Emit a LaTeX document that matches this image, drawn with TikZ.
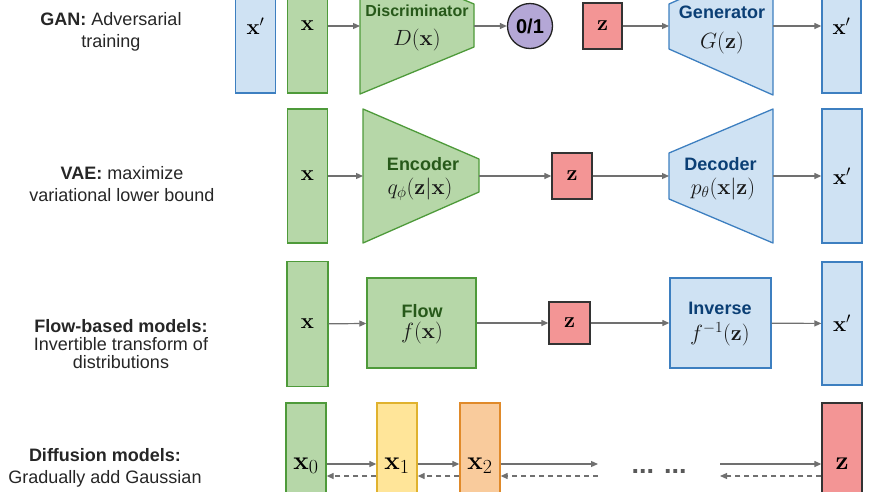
\RequirePackage{fix-cm}
\documentclass[tikz,border=0pt]{standalone}
\usepackage{amsmath}
\usepackage[no-math]{fontspec}
\newfontfamily\arial{Liberation Sans}
\usetikzlibrary{arrows.meta}
\definecolor{gfill}{HTML}{B6D7A8}
\definecolor{gline}{HTML}{4E9A3A}
\definecolor{gtxt}{HTML}{27591A}
\definecolor{bfill}{HTML}{CFE2F3}
\definecolor{bline}{HTML}{3D7FC0}
\definecolor{btxt}{HTML}{0B3F75}
\definecolor{rfill}{HTML}{F39595}
\definecolor{rline}{HTML}{333333}
\definecolor{pfill}{HTML}{B4A7D6}
\definecolor{pline}{HTML}{222222}
\definecolor{yfill}{HTML}{FFE599}
\definecolor{yline}{HTML}{E0B22E}
\definecolor{ofill}{HTML}{F9CB9C}
\definecolor{oline}{HTML}{E08A2A}
\definecolor{agrey}{HTML}{707070}
\newcommand\mysz{\fontsize{22}{26}\selectfont}
\newcommand\bigsz{\fontsize{26}{30}\selectfont}
\newcommand\ttlsz{\fontsize{18}{21.6}\selectfont}
\newcommand\sub[1]{_{\mbox{\fontsize{20}{22}\selectfont #1}}}
\begin{document}
\begin{tikzpicture}[x=1pt,y=-1pt,
  box/.style={draw, line width=1.3pt, inner sep=0pt, font=\mysz, text=black},
  tallbox/.style={box, minimum width=40pt, minimum height=134pt},
  gbox/.style={box, fill=gfill, draw=gline},
  bbox/.style={box, fill=bfill, draw=bline},
  rbox/.style={box, fill=rfill, draw=rline},
  ybox/.style={box, fill=yfill, draw=yline},
  obox/.style={box, fill=ofill, draw=oline},
  gshape/.style={fill=gfill, draw=gline, line width=1.3pt, line join=round},
  bshape/.style={fill=bfill, draw=bline, line width=1.3pt, line join=round},
  gname/.style={text=gtxt, font=\arial\bfseries\ttlsz},
  bname/.style={text=btxt, font=\arial\bfseries\ttlsz},
  mathlbl/.style={font=\mysz, text=black!90, inner sep=0pt},
  difflbl/.style={font=\bigsz, text=black, inner sep=0pt},
  ttl/.style={align=center, font=\arial\ttlsz, text=black!85},
  arr/.style={draw=agrey, line width=1.2pt, -{Triangle[length=7pt,width=6pt]}},
  darr/.style={arr, dash pattern=on 5pt off 4pt}]
\useasboundingbox (0,0) rectangle (873,491);
\clip (0,0) rectangle (873,491);

% ---------------- GAN row ----------------
\node[ttl] (ganT) at (111,32) {\textbf{GAN:} Adversarial\\training};
\node[tallbox, bbox] (ganXp1) at (255.5,26) {$\mathbf{x}'$};
\node[tallbox, gbox] (ganX) at (307.5,26) {$\mathbf{x}$};
\draw[gshape] (360,-43) -- (474,4) -- (474,47) -- (360,94) -- cycle;
\coordinate (discL) at (360,26);
\coordinate (discR) at (474,26);
\node[gname, font=\arial\bfseries\fontsize{16}{19}\selectfont] (discN) at (417,11) {Discriminator};
\node[mathlbl] (discM) at (417,40) {$D(\mathbf{x})$};
\node[circle, draw=pline, fill=pfill, line width=1.3pt, minimum size=45pt, inner sep=0pt,
      font=\arial\bfseries\fontsize{20}{24}\selectfont] (out) at (530,26) {0/1};
\node[rbox, minimum width=39pt, minimum height=46pt] (ganZ) at (602.5,26) {$\mathbf{z}$};
\draw[bshape] (669,4) -- (773,-42) -- (773,95) -- (669,49) -- cycle;
\coordinate (genL) at (669,26);
\coordinate (genR) at (773,26);
\node[bname] (genN) at (722,12) {Generator};
\node[mathlbl] (genM) at (722,43) {$G(\mathbf{z})$};
\node[tallbox, bbox, minimum width=39pt] (ganXp2) at (841.5,26) {$\mathbf{x}'$};
\draw[arr] (ganX) -- (discL);
\draw[arr] (discR) -- (out);
\draw[arr] (ganZ) -- (genL);
\draw[arr] (genR) -- (ganXp2);

% ---------------- VAE row ----------------
\node[ttl] (vaeT) at (122,184) {\textbf{VAE:} maximize\\variational lower bound};
\node[tallbox, gbox] (vaeX) at (307.5,176) {$\mathbf{x}$};
\draw[gshape] (363,109) -- (479,159) -- (479,192) -- (363,243) -- cycle;
\coordinate (encL) at (363,176);
\coordinate (encR) at (479,176);
\node[gname] (encN) at (423,164) {Encoder};
\node[mathlbl] (encM) at (420,189) {$q_\phi(\mathbf{z}|\mathbf{x})$};
\node[rbox, minimum width=40pt, minimum height=46pt] (vaeZ) at (572,176) {$\mathbf{z}$};
\draw[bshape] (669,153) -- (773,109) -- (773,243) -- (669,199) -- cycle;
\coordinate (decL) at (669,176);
\coordinate (decR) at (773,176);
\node[bname] (decN) at (720.5,164) {Decoder};
\node[mathlbl] (decM) at (723,189) {$p_\theta(\mathbf{x}|\mathbf{z})$};
\node[tallbox, bbox] (vaeXp) at (842,176) {$\mathbf{x}'$};
\draw[arr] (vaeX) -- (encL);
\draw[arr] (encR) -- (vaeZ);
\draw[arr] (vaeZ) -- (decL);
\draw[arr] (decR) -- (vaeXp);

% ---------------- Flow row ----------------
\node[ttl, font=\arial\fontsize{18}{18.4}\selectfont] (flowT) at (121,344)
  {\textbf{Flow-based models:}\\Invertible transform of\\distributions};
\node[gbox, minimum width=41pt, minimum height=125pt] (flowX) at (307.5,324) {$\mathbf{x}$};
\node[gbox, minimum width=109pt, minimum height=90pt] (flow) at (421.5,323) {};
\node[gname] (flowN) at (422,311) {Flow};
\node[mathlbl] (flowM) at (422,333) {$f(\mathbf{x})$};
\node[rbox, minimum width=41pt, minimum height=42pt] (flowZ) at (569.5,323) {$\mathbf{z}$};
\node[bbox, minimum width=101pt, minimum height=90pt] (inv) at (720.5,323) {};
\node[bname] (invN) at (720,308) {Inverse};
\node[mathlbl] (invM) at (720,334) {$f^{-1}(\mathbf{z})$};
\node[bbox, minimum width=40pt, minimum height=123pt] (flowXp) at (842,323.5) {$\mathbf{x}'$};
\draw[arr] (flowX) -- (flow);
\draw[arr] (flow) -- (flowZ);
\draw[arr] (flowZ) -- (inv);
\draw[arr] (inv) -- (flowXp);

% ---------------- Diffusion row ----------------
\node[ttl] (difT) at (105,468) {\textbf{Diffusion models:}\\Gradually add Gaussian};
\node[tallbox, gbox] (x0) at (306,470) {};
\node[tallbox, ybox] (x1) at (397,470) {};
\node[tallbox, obox] (x2) at (480,470) {};
\node[tallbox, rbox] (dz) at (842,470) {};
\node[difflbl] (x0L) at (306,466) {$\mathbf{x}\sub{0}$};
\node[difflbl] (x1L) at (397,466) {$\mathbf{x}\sub{1}$};
\node[difflbl] (x2L) at (480,466) {$\mathbf{x}\sub{2}$};
\node[difflbl] (dzL) at (842,464) {$\mathbf{z}$};
\node[font=\arial\bfseries\fontsize{27}{30}\selectfont, text=black!65, inner sep=0pt] (dots) at (659,471) {... ...};
\coordinate (gapL) at (598,464);
\coordinate (gapLd) at (598,476);
\coordinate (gapR) at (720,464);
\coordinate (gapRd) at (720,476);
\draw[arr] (x0.east |- 0,464) -- (x1.west |- 0,464);
\draw[darr] (x1.west |- 0,476) -- (x0.east |- 0,476);
\draw[arr] (x1.east |- 0,464) -- (x2.west |- 0,464);
\draw[darr] (x2.west |- 0,476) -- (x1.east |- 0,476);
\draw[arr] (x2.east |- gapL) -- (gapL);
\draw[darr] (gapLd) -- (x2.east |- gapLd);
\draw[arr] (gapR) -- (dz.west |- gapR);
\draw[darr] (dz.west |- gapRd) -- (gapRd);
\end{tikzpicture}
\end{document}
